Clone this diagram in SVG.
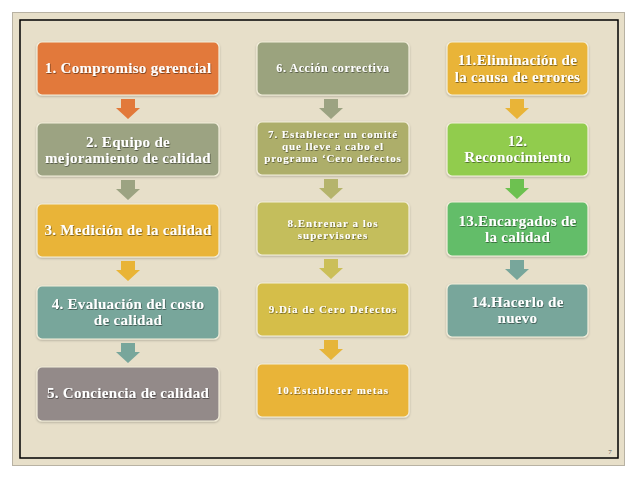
<svg xmlns="http://www.w3.org/2000/svg" width="638" height="479" viewBox="0 0 638 479">
<defs>
<filter id="sh" x="-10%" y="-10%" width="120%" height="130%">
<feDropShadow dx="0" dy="1" stdDeviation="1" flood-color="#000" flood-opacity="0.25"/>
</filter>
<filter id="ts" x="-5%" y="-20%" width="110%" height="150%">
<feDropShadow dx="0.6" dy="0.8" stdDeviation="0.5" flood-color="#000" flood-opacity="0.55"/>
</filter>
</defs>
<style>
.box{stroke:#f4efdc;stroke-width:1.2;filter:url(#sh)}
text{font-family:"Liberation Serif","DejaVu Serif",serif;font-weight:bold;fill:#ffffff;text-anchor:middle;filter:url(#ts)}
.l{font-size:15px;letter-spacing:0.3px}
.s{font-size:12px;letter-spacing:0.6px}
.s7{font-size:11px;letter-spacing:0.9px}
.xs{font-size:11px;letter-spacing:1px}
</style>
<rect x="0" y="0" width="638" height="479" fill="#ffffff"/>
<rect x="12.5" y="12.5" width="612" height="453" fill="#e7dfc9" stroke="#b8b2a3" stroke-width="1"/>
<rect x="20" y="20" width="598" height="438" fill="none" stroke="#000" stroke-width="1.5"/>
<g id="connectors">
<path d="M121,99 h14 v9 h5 l-12,11 l-12,-11 h5 z" fill="#e2793a"/>
<path d="M121,180 h14 v9 h5 l-12,11 l-12,-11 h5 z" fill="#9ca382"/>
<path d="M121,261 h14 v9 h5 l-12,11 l-12,-11 h5 z" fill="#e9b437"/>
<path d="M121,343 h14 v9 h5 l-12,11 l-12,-11 h5 z" fill="#78a69b"/>
<path d="M324,99 h14 v9 h5 l-12,11 l-12,-11 h5 z" fill="#9ca382"/>
<path d="M324,179 h14 v9 h5 l-12,11 l-12,-11 h5 z" fill="#b5b46c"/>
<path d="M324,259 h14 v9 h5 l-12,11 l-12,-11 h5 z" fill="#cbbf58"/>
<path d="M324,340 h14 v9 h5 l-12,11 l-12,-11 h5 z" fill="#e6b53a"/>
<path d="M510,99 h14 v9 h5 l-12,11 l-12,-11 h5 z" fill="#e9b437"/>
<path d="M510,179 h14 v9 h5 l-12,11 l-12,-11 h5 z" fill="#6dc150"/>
<path d="M510,260 h14 v9 h5 l-12,11 l-12,-11 h5 z" fill="#78a69b"/>
</g>
<g id="n1"><rect class="box" x="37" y="42" width="182" height="53" rx="5" fill="#e2793a"/><text class="l" x="128" y="73">1. Compromiso gerencial</text></g>
<g id="n2"><rect class="box" x="37" y="123" width="182" height="53" rx="5" fill="#9ca382"/><text class="l" x="128" y="147">2. Equipo de</text><text class="l" x="128" y="163">mejoramiento de calidad</text></g>
<g id="n3"><rect class="box" x="37" y="204" width="182" height="53" rx="5" fill="#e9b437"/><text class="l" x="128" y="235">3. Medición de la calidad</text></g>
<g id="n4"><rect class="box" x="37" y="286" width="182" height="53" rx="5" fill="#78a69b"/><text class="l" x="128" y="309">4. Evaluación del costo</text><text class="l" x="128" y="325">de calidad</text></g>
<g id="n5"><rect class="box" x="37" y="367" width="182" height="54" rx="5" fill="#938a89"/><text class="l" x="128" y="398">5. Conciencia de calidad</text></g>
<g id="n6"><rect class="box" x="257" y="42" width="152" height="53" rx="5" fill="#9ba37e"/><text class="s" x="333" y="72">6. Acción correctiva</text></g>
<g id="n7"><rect class="box" x="257" y="122" width="152" height="53" rx="5" fill="#adae6a"/><text class="s7" x="333" y="138">7. Establecer un comité</text><text class="s7" x="333" y="150">que lleve a cabo el</text><text class="s7" x="333" y="162">programa ‘Cero defectos</text></g>
<g id="n8"><rect class="box" x="257" y="202" width="152" height="53" rx="5" fill="#c4be5c"/><text class="xs" x="333" y="227">8.Entrenar a los</text><text class="xs" x="333" y="239">supervisores</text></g>
<g id="n9"><rect class="box" x="257" y="283" width="152" height="53" rx="5" fill="#d5be4a"/><text class="xs" x="333" y="313">9.Día de Cero Defectos</text></g>
<g id="n10"><rect class="box" x="257" y="364" width="152" height="53" rx="5" fill="#e9b437"/><text class="xs" x="333" y="394">10.Establecer metas</text></g>
<g id="n11"><rect class="box" x="447" y="42" width="141" height="53" rx="5" fill="#e9b437"/><text class="l" x="517.5" y="65">11.Eliminación de</text><text class="l" x="517.5" y="82">la causa de errores</text></g>
<g id="n12"><rect class="box" x="447" y="123" width="141" height="53" rx="5" fill="#91cc4e"/><text class="l" x="517.5" y="146">12.</text><text class="l" x="517.5" y="162">Reconocimiento</text></g>
<g id="n13"><rect class="box" x="447" y="202" width="141" height="54" rx="5" fill="#63bd69"/><text class="l" x="517.5" y="226">13.Encargados de</text><text class="l" x="517.5" y="242">la calidad</text></g>
<g id="n14"><rect class="box" x="447" y="284" width="141" height="53" rx="5" fill="#78a69b"/><text class="l" x="517.5" y="307">14.Hacerlo de</text><text class="l" x="517.5" y="323">nuevo</text></g>
<text x="610" y="454" style="font-size:7px;font-weight:normal;fill:#555;filter:none">7</text>
</svg>
